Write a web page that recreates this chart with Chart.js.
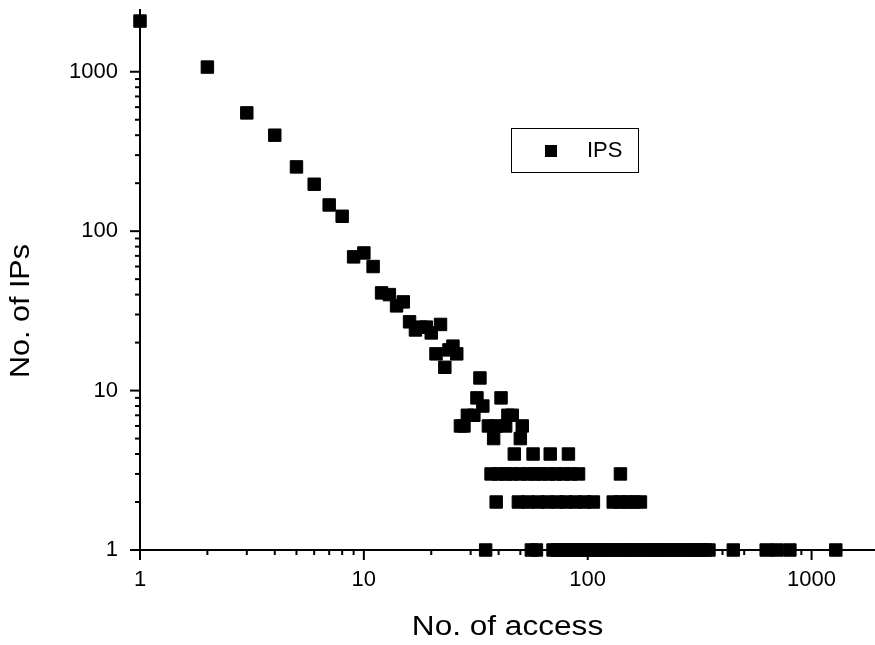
<!DOCTYPE html>
<html>
<head>
<meta charset="utf-8">
<script src="https://cdn.jsdelivr.net/npm/chart.js@4.4.1/dist/chart.umd.min.js"></script>
<style>
  html, body { margin: 0; padding: 0; background: #fff; }
  #wrap { width: 875px; height: 645px; position: relative; }
</style>
</head>
<body>
<div id="wrap"><canvas id="chart" width="875" height="645"></canvas></div>
<script>
// ---- data ----
const seriesLabel = 'IPS';
const xTitle = 'No. of access';
const yTitle = 'No. of IPs';

// x: number of accesses, y: number of IPs (paired by index)
const accessCounts = [
  1, 2, 3, 4, 5, 6, 7, 8, 9, 10, 11, 12, 13, 14, 15, 16, 17, 18, 19, 20,
  21, 22, 23, 24, 25, 26, 27, 28, 29, 31, 32, 33, 34, 41, 44, 46,
  36, 39, 43, 51,
  38, 50,
  47, 57, 68, 82,
  37, 40, 43, 46, 50, 54, 58, 62, 67, 72, 78, 84, 91, 140,
  39, 49, 54, 60, 66, 73, 80, 88, 97, 106, 130, 140, 150, 161, 172,
  35, 56, 59, 70, 73, 76, 80, 84, 88, 92, 96, 100, 105, 110, 115, 121, 127, 133,
  140, 147, 154, 162, 170, 179, 188, 197, 207, 217, 228, 240, 252, 265, 278,
  292, 306, 320, 334, 348, 447, 627, 700, 800, 1283
];
const ipCounts = [
  2080, 1070, 552, 400, 253, 197, 146, 124, 69, 73, 60, 41, 40, 34, 36, 27, 24, 25, 25, 23,
  17, 26, 14, 18, 19, 17, 6, 6, 7, 7, 9, 12, 8, 9, 7, 7,
  6, 6, 6, 6,
  5, 5,
  4, 4, 4, 4,
  3, 3, 3, 3, 3, 3, 3, 3, 3, 3, 3, 3, 3, 3,
  2, 2, 2, 2, 2, 2, 2, 2, 2, 2, 2, 2, 2, 2, 2,
  1, 1, 1, 1, 1, 1, 1, 1, 1, 1, 1, 1, 1, 1, 1, 1, 1, 1,
  1, 1, 1, 1, 1, 1, 1, 1, 1, 1, 1, 1, 1, 1, 1,
  1, 1, 1, 1, 1, 1, 1, 1, 1, 1
];

// tick marks and labels
const xTickValues = [1,2,3,4,5,6,7,8,9,10,20,30,40,50,60,70,80,90,100,200,300,400,500,600,700,800,900,1000];
const yTickValues = [1,2,3,4,5,6,7,8,9,10,20,30,40,50,60,70,80,90,100,200,300,400,500,600,700,800,900,1000,2000];
const xLabelValues = [1, 10, 100, 1000];
const yLabelValues = [1, 10, 100, 1000];
const xRange = [1, 1920];
const yRange = [1, 2440];

// ---- chart ----
const FONT = '"Liberation Sans", Arial, Helvetica, sans-serif';
const points = accessCounts.map((x, i) => ({ x: x, y: ipCounts[i] }));
const isDecade = v => Math.abs(Math.log10(v) - Math.round(Math.log10(v))) < 1e-9;
const zeroPadding = s => { s.paddingTop = 0; s.paddingBottom = 0; s.paddingLeft = 0; s.paddingRight = 0; };

function stretchedText(ctx, text, x, y, size, sx, rot) {
  ctx.save();
  ctx.translate(x, y);
  if (rot) ctx.rotate(rot);
  ctx.scale(sx, 1);
  ctx.fillStyle = '#000';
  ctx.font = size + 'px ' + FONT;
  ctx.textAlign = 'center';
  ctx.textBaseline = 'middle';
  ctx.fillText(text, 0, 0);
  ctx.restore();
}

const extrasPlugin = {
  id: 'extras',
  beforeDatasetsDraw(chart) {
    const ctx = chart.ctx;
    const xs = chart.scales.x, ys = chart.scales.y;
    const area = chart.chartArea;
    ctx.save();
    ctx.strokeStyle = '#000';
    ctx.lineWidth = 2;
    xTickValues.forEach(v => {
      const px = xs.getPixelForValue(v);
      const len = isDecade(v) ? 10 : 5;
      ctx.beginPath();
      ctx.moveTo(px, area.bottom);
      ctx.lineTo(px, area.bottom + len);
      ctx.stroke();
    });
    yTickValues.forEach(v => {
      const py = ys.getPixelForValue(v);
      const len = isDecade(v) ? 10 : 5;
      ctx.beginPath();
      ctx.moveTo(area.left, py);
      ctx.lineTo(area.left - len, py);
      ctx.stroke();
    });
    ctx.restore();
    // axis titles
    stretchedText(ctx, yTitle, 22, 311, 27, 1.13, -Math.PI / 2);
    stretchedText(ctx, xTitle, (area.left + area.right) / 2, 628, 27, 1.17, 0);
  },
  afterDraw(chart) {
    // legend box
    const ctx = chart.ctx;
    const ds = chart.data.datasets[0];
    ctx.save();
    ctx.fillStyle = '#fff';
    ctx.fillRect(511, 128, 128, 45);
    ctx.strokeStyle = '#000';
    ctx.lineWidth = 1;
    ctx.strokeRect(511.5, 128.5, 127, 44);
    ctx.fillStyle = ds.backgroundColor;
    ctx.fillRect(545, 145, 12, 12);
    ctx.font = '22px ' + FONT;
    ctx.textAlign = 'left';
    ctx.textBaseline = 'middle';
    ctx.fillText(ds.label, 587, 151);
    ctx.restore();
  }
};

new Chart(document.getElementById('chart'), {
  type: 'scatter',
  data: {
    datasets: [{
      label: seriesLabel,
      data: points,
      pointStyle: 'rect',
      pointRadius: 8.8,
      pointHoverRadius: 8.8,
      borderWidth: 1,
      backgroundColor: '#000',
      borderColor: '#000',
      clip: false
    }]
  },
  options: {
    responsive: false,
    animation: false,
    devicePixelRatio: 1,
    layout: { autoPadding: false, padding: { top: 10, right: 0, left: 0, bottom: 0 } },
    plugins: { legend: { display: false }, tooltip: { enabled: false } },
    scales: {
      x: {
        type: 'logarithmic',
        position: 'bottom',
        min: xRange[0],
        max: xRange[1],
        afterBuildTicks: s => { s.ticks = xTickValues.map(v => ({ value: v })); },
        afterFit: s => { s.height = 95; zeroPadding(s); },
        ticks: {
          autoSkip: false,
          maxRotation: 0,
          padding: 7,
          color: '#000',
          font: { family: FONT, size: 22 },
          callback: v => (xLabelValues.includes(v) ? String(v) : '')
        },
        grid: { display: true, drawOnChartArea: false, drawTicks: true, tickLength: 10, color: 'rgba(0,0,0,0)' },
        border: { display: true, color: '#000', width: 2 },
        title: { display: false }
      },
      y: {
        type: 'logarithmic',
        position: 'left',
        min: yRange[0],
        max: yRange[1],
        afterBuildTicks: s => { s.ticks = yTickValues.map(v => ({ value: v })); },
        afterFit: s => { s.width = 140; zeroPadding(s); },
        ticks: {
          autoSkip: false,
          padding: 12,
          color: '#000',
          font: { family: FONT, size: 22 },
          callback: v => (yLabelValues.includes(v) ? String(v) : '')
        },
        grid: { display: true, drawOnChartArea: false, drawTicks: true, tickLength: 10, color: 'rgba(0,0,0,0)' },
        border: { display: true, color: '#000', width: 2 },
        title: { display: false }
      }
    }
  },
  plugins: [extrasPlugin]
});
</script>
</body>
</html>
